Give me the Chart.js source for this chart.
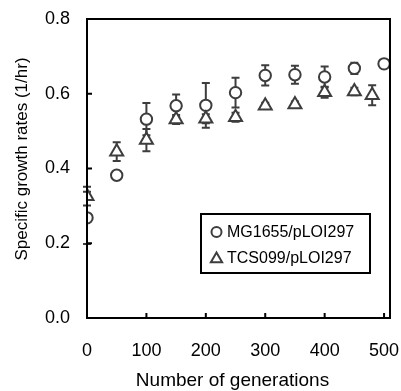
<!DOCTYPE html>
<html>
<head>
<meta charset="utf-8">
<script src="https://cdn.jsdelivr.net/npm/chart.js@4"></script>
<style>
  html, body { margin: 0; padding: 0; background: #fff; }
  #wrap { width: 401px; height: 391px; }
</style>
</head>
<body>
<div id="wrap"><canvas id="c" width="401" height="391"></canvas></div>
<script>
// Growth rate of each strain over the serial transfer experiment
const mgGenerations = [0, 50, 100, 150, 200, 250, 300, 350, 400, 450, 500];
const mgRate        = [0.268, 0.382, 0.532, 0.568, 0.569, 0.603, 0.649, 0.651, 0.645, 0.668, 0.680];
const mgErr         = [0.070, 0.010, 0.043, 0.030, 0.060, 0.040, 0.027, 0.024, 0.028, 0.015, 0.008];

const tcsGenerations = [0, 50, 100, 150, 200, 250, 300, 350, 400, 450, 480];
const tcsRate        = [0.326, 0.445, 0.476, 0.531, 0.533, 0.537, 0.568, 0.571, 0.604, 0.606, 0.596];
const tcsErr         = [0.025, 0.025, 0.030, 0.012, 0.012, 0.012, 0.008, 0.008, 0.015, 0.010, 0.027];

const xTickValues = [0, 100, 200, 300, 400, 500];
const yTickValues = [0.0, 0.2, 0.4, 0.6, 0.8];

const seriesLabels = ['MG1655/pLOI297', 'TCS099/pLOI297'];
const xTitle = 'Number of generations';
const yTitle = 'Specific growth rates (1/hr)';
const markerColor = '#3d3d3d';
const fontFamily = '"Liberation Sans", Arial, sans-serif';

function toPoints(xs, ys) {
  return xs.map((x, i) => ({ x: x, y: ys[i] }));
}

// Vertical error bars with caps, drawn underneath the markers
const errorBars = {
  id: 'errorBars',
  beforeDatasetsDraw(chart) {
    const ctx = chart.ctx;
    const xs = chart.scales.x, ys = chart.scales.y;
    const sets = [[mgGenerations, mgRate, mgErr], [tcsGenerations, tcsRate, tcsErr]];
    ctx.save();
    ctx.strokeStyle = markerColor;
    ctx.lineWidth = 2;
    sets.forEach(([gx, gy, ge]) => {
      gx.forEach((g, i) => {
        const px = xs.getPixelForValue(g);
        const top = ys.getPixelForValue(gy[i] + ge[i]);
        const bot = ys.getPixelForValue(gy[i] - ge[i]);
        ctx.beginPath();
        ctx.moveTo(px, top); ctx.lineTo(px, bot);
        ctx.moveTo(px - 4, top); ctx.lineTo(px + 4, top);
        ctx.moveTo(px - 4, bot); ctx.lineTo(px + 4, bot);
        ctx.stroke();
      });
    });
    ctx.restore();
  }
};

// Boxed frame with inward tick marks, axis titles and the legend box
const frame = {
  id: 'frame',
  afterDatasetsDraw(chart) {
    const ctx = chart.ctx;
    const a = chart.chartArea;
    const xs = chart.scales.x, ys = chart.scales.y;
    ctx.save();
    ctx.strokeStyle = '#000';
    ctx.lineWidth = 2;
    ctx.strokeRect(a.left, a.top, a.right - a.left, a.bottom - a.top);
    ctx.beginPath();
    xTickValues.forEach(v => {
      const px = xs.getPixelForValue(v);
      ctx.moveTo(px, a.bottom); ctx.lineTo(px, a.bottom - 5);
    });
    yTickValues.forEach(v => {
      const py = ys.getPixelForValue(v);
      ctx.moveTo(a.left, py); ctx.lineTo(a.left + 5, py);
    });
    ctx.stroke();

    // legend
    const bx = 201, by = 214, bw = 169, bh = 59;
    ctx.fillStyle = '#fff';
    ctx.fillRect(bx, by, bw, bh);
    ctx.strokeRect(bx, by, bw, bh);
    const styles = ['circle', 'triangle'];
    const radii = [5, 6.5];
    const rows = [232, 258];
    ctx.font = '16px ' + fontFamily;
    ctx.textBaseline = 'middle';
    ctx.textAlign = 'left';
    styles.forEach((s, i) => {
      ctx.strokeStyle = markerColor;
      ctx.fillStyle = '#fff';
      ctx.lineWidth = 2;
      Chart.helpers.drawPoint(ctx, { pointStyle: s, radius: radii[i], borderWidth: 2 }, 216.5, rows[i] + (s === 'triangle' ? 1 : 0));
      ctx.fillStyle = '#000';
      ctx.fillText(seriesLabels[i], 227, rows[i] + 1);
    });

    // x axis title
    ctx.fillStyle = '#000';
    ctx.textAlign = 'center';
    ctx.font = '19px ' + fontFamily;
    ctx.fillText(xTitle, 232.5, 381);

    // y axis title
    ctx.translate(22, 159);
    ctx.rotate(-Math.PI / 2);
    ctx.font = '17px ' + fontFamily;
    ctx.fillText(yTitle, 0, 0);
    ctx.restore();
  }
};

new Chart(document.getElementById('c'), {
  type: 'scatter',
  data: {
    datasets: [
      {
        label: seriesLabels[0],
        data: toPoints(mgGenerations, mgRate),
        pointStyle: 'circle',
        pointRadius: 5.7,
        pointBorderWidth: 2,
        borderColor: markerColor,
        backgroundColor: '#fff',
        order: 2
      },
      {
        label: seriesLabels[1],
        data: toPoints(tcsGenerations, tcsRate),
        pointStyle: 'triangle',
        pointRadius: 7.5,
        pointBorderWidth: 2,
        borderColor: markerColor,
        backgroundColor: '#fff',
        order: 1
      }
    ]
  },
  options: {
    responsive: false,
    animation: false,
    devicePixelRatio: 1,
    layout: { padding: { top: 19, right: 11, bottom: 0, left: 0 } },
    plugins: { legend: { display: false }, tooltip: { enabled: false } },
    scales: {
      x: {
        type: 'linear',
        min: 0,
        max: 510,
        afterBuildTicks: s => { s.ticks = xTickValues.map(v => ({ value: v })); },
        afterFit: s => { s.height = 73; s.paddingLeft = 0; s.paddingRight = 0; },
        grid: { display: false, drawTicks: false },
        border: { display: false },
        ticks: { padding: 22, color: '#000', font: { family: fontFamily, size: 18 } }
      },
      y: {
        type: 'linear',
        min: 0,
        max: 0.8,
        afterBuildTicks: s => { s.ticks = yTickValues.map(v => ({ value: v })); },
        afterFit: s => { s.width = 87; s.paddingTop = 0; s.paddingBottom = 0; },
        grid: { display: false, drawTicks: false },
        border: { display: false },
        ticks: { padding: 17, color: '#000', font: { family: fontFamily, size: 18 }, callback: v => v.toFixed(1) }
      }
    }
  },
  plugins: [errorBars, frame]
});
</script>
</body>
</html>
